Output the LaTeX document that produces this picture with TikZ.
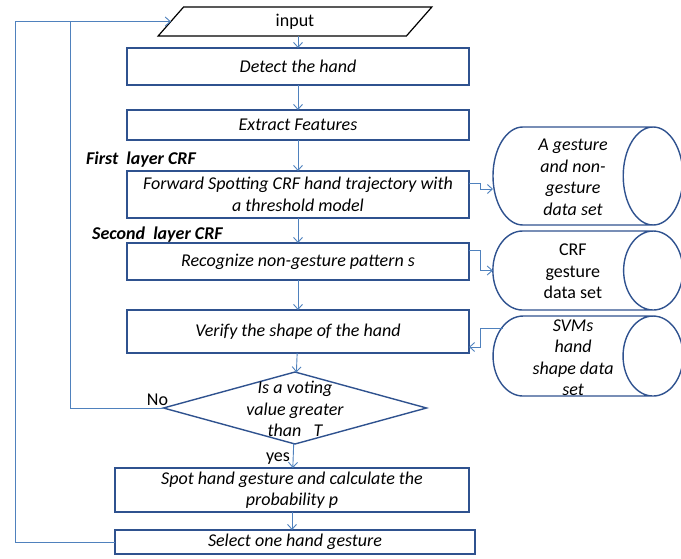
\documentclass[tikz,border=0pt]{standalone}
\usepackage{fontspec}
\setmainfont{Carlito}
\usepackage{tikz}
\usetikzlibrary{shapes.geometric,arrows.meta,positioning,calc}

\definecolor{boxblue}{RGB}{47,82,143}
\definecolor{lineblue}{RGB}{79,129,189}

\begin{document}
\begin{tikzpicture}[x=1pt, y=-1pt, node distance=25pt,
    box/.style={rectangle, draw=boxblue, line width=1.4pt, minimum width=342pt, align=center, inner sep=1pt, outer sep=0pt, font=\fontsize{18}{21.5}\selectfont\itshape},
    io/.style={trapezium, trapezium left angle=75, trapezium right angle=105, trapezium stretches=true, draw, line width=1.2pt, minimum width=275pt, minimum height=29pt, inner sep=1pt, outer sep=0pt, font=\fontsize{18}{21.5}\selectfont},
    decision/.style={diamond, draw=boxblue, line width=1.4pt, minimum width=263pt, minimum height=72pt, inner sep=0pt, outer sep=0pt},
    store/.style={cylinder, shape border rotate=0, draw=boxblue, line width=1.4pt, minimum height=190pt, inner sep=0pt, outer sep=0pt},
    storetext/.style={align=center, inner sep=0pt, font=\fontsize{18}{21.5}\selectfont},
    layer/.style={inner sep=0pt, font=\fontsize{18}{20}\selectfont\bfseries\itshape},
    arrow/.style={->, lineblue, line width=0.9pt, >={Straight Barb[length=5pt, width=9pt]}},
    link/.style={lineblue, line width=0.9pt}]

    \path[use as bounding box, clip] (0,0) rectangle (681,559);

    % Main flow
    \node[box, minimum height=37pt] (detect) at (298,66.5) {Detect the hand};
    \node[io, above=12pt of detect, xshift=-3pt] (input) {input};
    \node[box, minimum height=30pt, below=25pt of detect] (extract) {Extract Features};
    \node[box, minimum height=47pt, below=31pt of extract] (forward) {Forward Spotting CRF hand trajectory with\\a threshold model};
    \node[box, minimum height=37pt, below=25pt of forward] (recognize) {Recognize non-gesture pattern s};
    \node[box, minimum height=43pt, below=30pt of recognize] (verify) {Verify the shape of the hand};
    \node[decision, below=19pt of verify, xshift=-3pt] (vote) {};
    \node[box, minimum width=354pt, minimum height=44pt, below=24pt of vote, xshift=-3pt] (spot) {Spot hand gesture and calculate the\\probability p};
    \node[box, minimum width=360pt, minimum height=24pt, below=18pt of spot.south west, anchor=north west] (select) {Select one hand gesture};

    % Data sets
    \node[store, aspect=0.61, right=24pt of forward, yshift=18.5pt] (gdata) {\rule{0pt}{98pt}};
    \node[store, aspect=0.75, below=6pt of gdata] (crfdata) {\rule{0pt}{79pt}};
    \node[store, aspect=0.75, below=6pt of crfdata] (svmdata) {\rule{0pt}{80pt}};
    \node[storetext, font=\fontsize{18}{21.5}\selectfont\itshape] (gtext) at ([xshift=-15pt,yshift=-1.5pt]gdata.shape center) {A gesture\\and non-\\gesture\\data set};
    \node[storetext] (crftext) at ([xshift=-15pt,yshift=-1pt]crfdata.shape center) {CRF\\gesture\\data set};
    \node[storetext, font=\fontsize{18}{21.5}\selectfont\itshape] (svmtext) at ([xshift=-15pt,yshift=-1.5pt]svmdata.shape center) {SVMs\\hand\\shape data\\set};

    % Decision text
    \node[align=center, inner sep=0pt, font=\fontsize{18}{21.5}\selectfont\itshape] (votetext) at ([yshift=-1pt]vote.center) {Is a voting\\value greater\\than\ \ \ T};

    % Labels
    \node[layer, anchor=base west] (layer1) at ([xshift=-41pt,yshift=6pt]forward.north west) {First\ \ layer CRF};
    \node[layer, anchor=base west] (layer2) at ([xshift=-35pt,yshift=3pt]recognize.north west) {Second\ \ layer CRF};
    \node[font=\fontsize{18}{21.5}\selectfont, inner sep=0pt] (no) at ([xshift=-6pt,yshift=8pt]vote.west) {No};
    \node[font=\fontsize{18}{21.5}\selectfont, inner sep=0pt] (yes) at ([xshift=-17pt,yshift=-15pt]vote.south) {yes};

    % Arrows
    \draw[arrow] (input.south -| detect.north) -- (detect.north);
    \draw[arrow] (detect) -- (extract);
    \draw[arrow] (extract) -- (forward);
    \draw[arrow] (forward) -- (recognize);
    \draw[arrow] (recognize) -- (verify);
    \draw[arrow] (verify) -- (vote);
    \draw[arrow] (vote) -- (spot);
    \draw[arrow] (spot.south) -- (spot.south |- select.north);
    \draw[arrow] ([yshift=11.5pt]forward.east) -- ++(11,0) |- ([yshift=-13pt]gdata.west);
    \draw[arrow] ([yshift=11.5pt]recognize.east) -- ++(11,0) |- (crfdata.west);
    \draw[arrow] ([xshift=10pt,yshift=28pt]svmdata.west) -- ++(-23,0) |- ([yshift=-15.5pt]verify.east);

    % Feedback
    \coordinate (outer) at (15,0);
    \coordinate (inner) at (70,0);
    \draw[arrow] (select.west) -| (outer |- input.west) -- (input.west);
    \draw[link] (vote.west) -| (inner |- input.west);

\end{tikzpicture}
\end{document}
